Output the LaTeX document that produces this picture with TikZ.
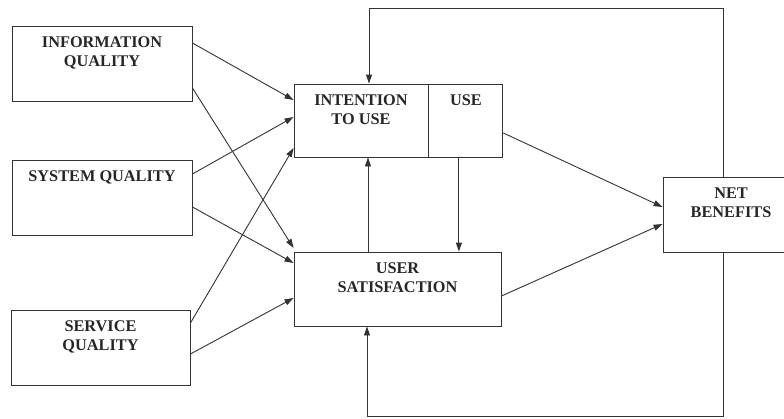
\documentclass[tikz,border=0pt]{standalone}
\usepackage{fontspec}
\setmainfont{Liberation Serif}
\usetikzlibrary{arrows.meta, positioning}

\tikzset{
  box/.style={draw=black!80, line width=0.9pt, minimum height=75pt, inner sep=0pt},
  lbl/.style={anchor=north, align=center, text=black!85, yshift=-8pt,
    font=\bfseries\fontsize{16.3}{19}\selectfont},
  arr/.style={draw=black!80, line width=0.9pt, -{Triangle[length=9pt, width=6pt]}},
  link/.style={draw=black!80, line width=0.9pt}
}

\begin{document}
\begin{tikzpicture}[x=1pt, y=-1pt]
    \useasboundingbox (0,0) rectangle (784,418);

    \node[box, minimum width=180pt, label={[lbl]north:INFORMATION\\QUALITY}] (infoq) at (102,63.5) {};
    \node[box, minimum width=180pt, label={[lbl]north:SYSTEM QUALITY}] (sysq) at (102,197.5) {};
    \node[box, minimum width=179pt, label={[lbl]north:SERVICE\\QUALITY}] (servq) at (100.5,347.5) {};

    \node[box, minimum width=134pt, minimum height=73pt, label={[lbl]north:INTENTION\\TO USE}] (intent) at (361,120.5) {};
    \node[box, minimum width=74pt, minimum height=73pt, anchor=west, label={[lbl]north:USE}] (use) at (intent.east) {};
    \node[box, minimum width=207pt, minimum height=74pt, label={[lbl]north:USER\\SATISFACTION}] (usersat) at (397.5,289) {};
    \node[box, minimum width=136pt, label={[lbl]north:NET\\BENEFITS}] (netben) at (731,214.5) {};

    \draw[arr] ([yshift=20.5pt]infoq.east) -- ([yshift=20.5pt]intent.west);
    \draw[arr] ([yshift=-24.5pt]infoq.east) -- ([yshift=41pt]usersat.west);
    \draw[arr] ([yshift=23.5pt]sysq.east) -- ([yshift=3.5pt]intent.west);
    \draw[arr] ([yshift=-9.5pt]sysq.east) -- ([yshift=26pt]usersat.west);
    \draw[arr] ([yshift=24.5pt]servq.east) -- ([yshift=-27.5pt]intent.west);
    \draw[arr] ([yshift=-6.5pt]servq.east) -- ([yshift=-9pt]usersat.west);

    \draw[arr] ([xshift=-29.5pt]usersat.north) -- ([xshift=-29.5pt]usersat.north |- intent.south);
    \draw[arr] ([xshift=-7pt]use.south) -- ([xshift=-7pt]use.south |- usersat.north);

    \draw[arr] ([yshift=-12.5pt]use.east) -- ([yshift=7.5pt]netben.west);
    \draw[arr] ([yshift=-7pt]usersat.east) -- ([yshift=-9.5pt]netben.west);

    % feedback loops
    \draw[arr] ([xshift=-8pt]netben.north) -- ++(0,-168) -| ([xshift=8pt]intent.north);
    \draw[arr] ([xshift=-8pt]netben.south) -- ++(0,164) -| ([xshift=-30.5pt]usersat.south);
\end{tikzpicture}
\end{document}
